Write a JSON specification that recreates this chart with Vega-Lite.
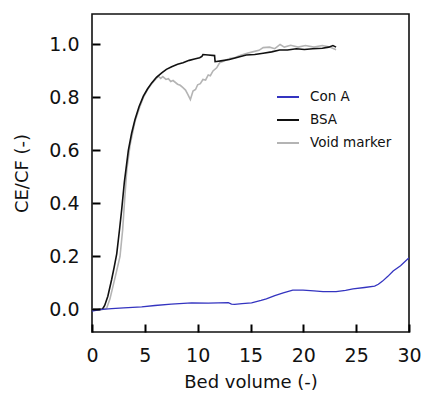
{
  "$schema": "https://vega.github.io/schema/vega-lite/v6.json",
  "width": 317,
  "height": 318,
  "autosize": "none",
  "padding": {"left": 92, "top": 14, "right": 14, "bottom": 62},
  "background": "white",
  "config": {
    "font": "DejaVu Sans",
    "view": {"stroke": "#111111", "strokeWidth": 1.6},
    "axis": {
      "grid": false,
      "labelFlush": false,
      "labelColor": "#111111",
      "titleColor": "#111111",
      "labelFont": "DejaVu Sans",
      "titleFont": "DejaVu Sans",
      "labelFontSize": 19,
      "titleFontSize": 18,
      "titleFontWeight": "normal"
    },
    "legend": {
      "labelFont": "DejaVu Sans",
      "labelFontSize": 13.5,
      "labelColor": "#111111"
    }
  },
  "datasets": {
    "vm": [
      {"bv": 0, "r": 0.0, "s": "Void marker"},
      {"bv": 1.0, "r": 0.0, "s": "Void marker"},
      {"bv": 1.39, "r": 0.005, "s": "Void marker"},
      {"bv": 1.7, "r": 0.04, "s": "Void marker"},
      {"bv": 2.0, "r": 0.09, "s": "Void marker"},
      {"bv": 2.3, "r": 0.14, "s": "Void marker"},
      {"bv": 2.65, "r": 0.2, "s": "Void marker"},
      {"bv": 2.9, "r": 0.3, "s": "Void marker"},
      {"bv": 3.1, "r": 0.42, "s": "Void marker"},
      {"bv": 3.3, "r": 0.53, "s": "Void marker"},
      {"bv": 3.6, "r": 0.62, "s": "Void marker"},
      {"bv": 4.07, "r": 0.71, "s": "Void marker"},
      {"bv": 4.5, "r": 0.762, "s": "Void marker"},
      {"bv": 4.86, "r": 0.8, "s": "Void marker"},
      {"bv": 5.25, "r": 0.83, "s": "Void marker"},
      {"bv": 5.65, "r": 0.852, "s": "Void marker"},
      {"bv": 6.0, "r": 0.868, "s": "Void marker"},
      {"bv": 6.28, "r": 0.88, "s": "Void marker"},
      {"bv": 6.5, "r": 0.872, "s": "Void marker"},
      {"bv": 6.7, "r": 0.879, "s": "Void marker"},
      {"bv": 7.0, "r": 0.868, "s": "Void marker"},
      {"bv": 7.23, "r": 0.871, "s": "Void marker"},
      {"bv": 7.45, "r": 0.86, "s": "Void marker"},
      {"bv": 7.67, "r": 0.864, "s": "Void marker"},
      {"bv": 8.1, "r": 0.85, "s": "Void marker"},
      {"bv": 8.35, "r": 0.846, "s": "Void marker"},
      {"bv": 8.61, "r": 0.837, "s": "Void marker"},
      {"bv": 8.85, "r": 0.828, "s": "Void marker"},
      {"bv": 9.08, "r": 0.811, "s": "Void marker"},
      {"bv": 9.31, "r": 0.792, "s": "Void marker"},
      {"bv": 9.56, "r": 0.824, "s": "Void marker"},
      {"bv": 9.8, "r": 0.83, "s": "Void marker"},
      {"bv": 10.0, "r": 0.848, "s": "Void marker"},
      {"bv": 10.25, "r": 0.852, "s": "Void marker"},
      {"bv": 10.5, "r": 0.868, "s": "Void marker"},
      {"bv": 10.75, "r": 0.866, "s": "Void marker"},
      {"bv": 11.0, "r": 0.885, "s": "Void marker"},
      {"bv": 11.2, "r": 0.882, "s": "Void marker"},
      {"bv": 11.45, "r": 0.9, "s": "Void marker"},
      {"bv": 11.8, "r": 0.912, "s": "Void marker"},
      {"bv": 12.08, "r": 0.931, "s": "Void marker"},
      {"bv": 12.5, "r": 0.938, "s": "Void marker"},
      {"bv": 13.0, "r": 0.947, "s": "Void marker"},
      {"bv": 13.5, "r": 0.95, "s": "Void marker"},
      {"bv": 14.0, "r": 0.958, "s": "Void marker"},
      {"bv": 14.6, "r": 0.966, "s": "Void marker"},
      {"bv": 15.2, "r": 0.972, "s": "Void marker"},
      {"bv": 15.8, "r": 0.978, "s": "Void marker"},
      {"bv": 16.2, "r": 0.988, "s": "Void marker"},
      {"bv": 16.8, "r": 0.99, "s": "Void marker"},
      {"bv": 17.3, "r": 0.984, "s": "Void marker"},
      {"bv": 17.8, "r": 1.0, "s": "Void marker"},
      {"bv": 18.2, "r": 0.99, "s": "Void marker"},
      {"bv": 18.8, "r": 0.997, "s": "Void marker"},
      {"bv": 19.5, "r": 0.99, "s": "Void marker"},
      {"bv": 20.2, "r": 0.996, "s": "Void marker"},
      {"bv": 21.0, "r": 0.99, "s": "Void marker"},
      {"bv": 21.8, "r": 0.996, "s": "Void marker"},
      {"bv": 22.5, "r": 0.99, "s": "Void marker"},
      {"bv": 23.1, "r": 0.98, "s": "Void marker"}
    ],
    "bsa": [
      {"bv": 0, "r": 0.0, "s": "BSA"},
      {"bv": 0.5, "r": 0.0, "s": "BSA"},
      {"bv": 1.0, "r": 0.002, "s": "BSA"},
      {"bv": 1.2, "r": 0.015, "s": "BSA"},
      {"bv": 1.5, "r": 0.05, "s": "BSA"},
      {"bv": 1.86, "r": 0.113, "s": "BSA"},
      {"bv": 2.1, "r": 0.16, "s": "BSA"},
      {"bv": 2.34, "r": 0.21, "s": "BSA"},
      {"bv": 2.6, "r": 0.3, "s": "BSA"},
      {"bv": 2.81, "r": 0.377, "s": "BSA"},
      {"bv": 3.06, "r": 0.48, "s": "BSA"},
      {"bv": 3.44, "r": 0.6, "s": "BSA"},
      {"bv": 3.75, "r": 0.665, "s": "BSA"},
      {"bv": 4.07, "r": 0.717, "s": "BSA"},
      {"bv": 4.45, "r": 0.765, "s": "BSA"},
      {"bv": 4.86, "r": 0.805, "s": "BSA"},
      {"bv": 5.25, "r": 0.832, "s": "BSA"},
      {"bv": 5.65, "r": 0.855, "s": "BSA"},
      {"bv": 6.1, "r": 0.876, "s": "BSA"},
      {"bv": 6.6, "r": 0.893, "s": "BSA"},
      {"bv": 7.04, "r": 0.906, "s": "BSA"},
      {"bv": 7.54, "r": 0.916, "s": "BSA"},
      {"bv": 8.1, "r": 0.925, "s": "BSA"},
      {"bv": 8.61, "r": 0.931, "s": "BSA"},
      {"bv": 9.2, "r": 0.94, "s": "BSA"},
      {"bv": 9.7, "r": 0.945, "s": "BSA"},
      {"bv": 10.19, "r": 0.95, "s": "BSA"},
      {"bv": 10.4, "r": 0.955, "s": "BSA"},
      {"bv": 10.5, "r": 0.962, "s": "BSA"},
      {"bv": 11.0, "r": 0.96, "s": "BSA"},
      {"bv": 11.6, "r": 0.958, "s": "BSA"},
      {"bv": 11.65, "r": 0.935, "s": "BSA"},
      {"bv": 12.2, "r": 0.938, "s": "BSA"},
      {"bv": 13.0, "r": 0.943, "s": "BSA"},
      {"bv": 13.8, "r": 0.952, "s": "BSA"},
      {"bv": 14.6, "r": 0.96, "s": "BSA"},
      {"bv": 15.4, "r": 0.962, "s": "BSA"},
      {"bv": 16.2, "r": 0.967, "s": "BSA"},
      {"bv": 17.0, "r": 0.972, "s": "BSA"},
      {"bv": 17.76, "r": 0.979, "s": "BSA"},
      {"bv": 18.5, "r": 0.979, "s": "BSA"},
      {"bv": 19.34, "r": 0.984, "s": "BSA"},
      {"bv": 20.1, "r": 0.981, "s": "BSA"},
      {"bv": 20.9, "r": 0.984, "s": "BSA"},
      {"bv": 21.8, "r": 0.986, "s": "BSA"},
      {"bv": 22.4, "r": 0.99, "s": "BSA"},
      {"bv": 22.8, "r": 0.996, "s": "BSA"},
      {"bv": 23.1, "r": 0.99, "s": "BSA"}
    ],
    "cona": [
      {"bv": 0, "r": -0.006, "s": "Con A"},
      {"bv": 0.5, "r": -0.002, "s": "Con A"},
      {"bv": 1.0, "r": 0.0, "s": "Con A"},
      {"bv": 1.86, "r": 0.003, "s": "Con A"},
      {"bv": 3.0, "r": 0.006, "s": "Con A"},
      {"bv": 4.7, "r": 0.01, "s": "Con A"},
      {"bv": 5.96, "r": 0.015, "s": "Con A"},
      {"bv": 7.5, "r": 0.02, "s": "Con A"},
      {"bv": 9.43, "r": 0.025, "s": "Con A"},
      {"bv": 11.0, "r": 0.024, "s": "Con A"},
      {"bv": 12.9, "r": 0.026, "s": "Con A"},
      {"bv": 13.2, "r": 0.02, "s": "Con A"},
      {"bv": 13.5, "r": 0.019, "s": "Con A"},
      {"bv": 14.2, "r": 0.022, "s": "Con A"},
      {"bv": 15.1, "r": 0.025, "s": "Con A"},
      {"bv": 16.0, "r": 0.034, "s": "Con A"},
      {"bv": 16.5, "r": 0.04, "s": "Con A"},
      {"bv": 17.3, "r": 0.052, "s": "Con A"},
      {"bv": 18.1, "r": 0.063, "s": "Con A"},
      {"bv": 19.0, "r": 0.073, "s": "Con A"},
      {"bv": 19.97, "r": 0.073, "s": "Con A"},
      {"bv": 21.0, "r": 0.07, "s": "Con A"},
      {"bv": 21.86, "r": 0.067, "s": "Con A"},
      {"bv": 23.1, "r": 0.067, "s": "Con A"},
      {"bv": 24.0, "r": 0.072, "s": "Con A"},
      {"bv": 24.7, "r": 0.078, "s": "Con A"},
      {"bv": 25.8, "r": 0.083, "s": "Con A"},
      {"bv": 26.75, "r": 0.088, "s": "Con A"},
      {"bv": 27.1, "r": 0.095, "s": "Con A"},
      {"bv": 27.5, "r": 0.107, "s": "Con A"},
      {"bv": 28.0, "r": 0.125, "s": "Con A"},
      {"bv": 28.5, "r": 0.145, "s": "Con A"},
      {"bv": 29.2, "r": 0.165, "s": "Con A"},
      {"bv": 29.9, "r": 0.191, "s": "Con A"},
      {"bv": 30, "r": 0.194, "s": "Con A"}
    ]
  },
  "encoding": {
    "x": {
      "field": "bv",
      "type": "quantitative",
      "scale": {"domain": [0, 30], "nice": false, "zero": false},
      "axis": {"values": [0, 5, 10, 15, 20, 25, 30], "title": "Bed volume (-)", "labelPadding": 14, "titlePadding": 8, "format": "d", "ticks": true, "tickSize": 8, "tickWidth": 2, "tickColor": "black", "tickOpacity": 1, "offset": -8, "domain": false, "zindex": 2}
    },
    "y": {
      "field": "r",
      "type": "quantitative",
      "scale": {"domain": [-0.085, 1.115], "nice": false, "zero": false},
      "axis": {"values": [0, 0.2, 0.4, 0.6, 0.8, 1.0], "format": ".1f", "title": "CE/CF (-)", "labelPadding": 13, "titlePadding": 17, "ticks": true, "tickSize": 8, "tickWidth": 2, "tickColor": "black", "tickOpacity": 1, "offset": -8, "domain": false, "zindex": 2}
    },
    "color": {
      "field": "s",
      "type": "nominal",
      "scale": {"domain": ["Con A", "BSA", "Void marker"], "range": ["#3434c0", "#111111", "#b4b4b4"]},
      "legend": {
        "title": null,
        "orient": "none",
        "legendX": 184,
        "legendY": 71,
        "symbolType": "stroke",
        "symbolSize": 484,
        "symbolStrokeWidth": 2,
        "labelOffset": 10,
        "rowPadding": 4,
        "padding": 0
      }
    }
  },
  "layer": [
    {"data": {"name": "vm"}, "mark": {"type": "line", "strokeWidth": 1.6, "clip": true}},
    {"data": {"name": "bsa"}, "mark": {"type": "line", "strokeWidth": 1.6, "clip": true}},
    {"data": {"name": "cona"}, "mark": {"type": "line", "strokeWidth": 1.3, "clip": true}}
  ]
}
